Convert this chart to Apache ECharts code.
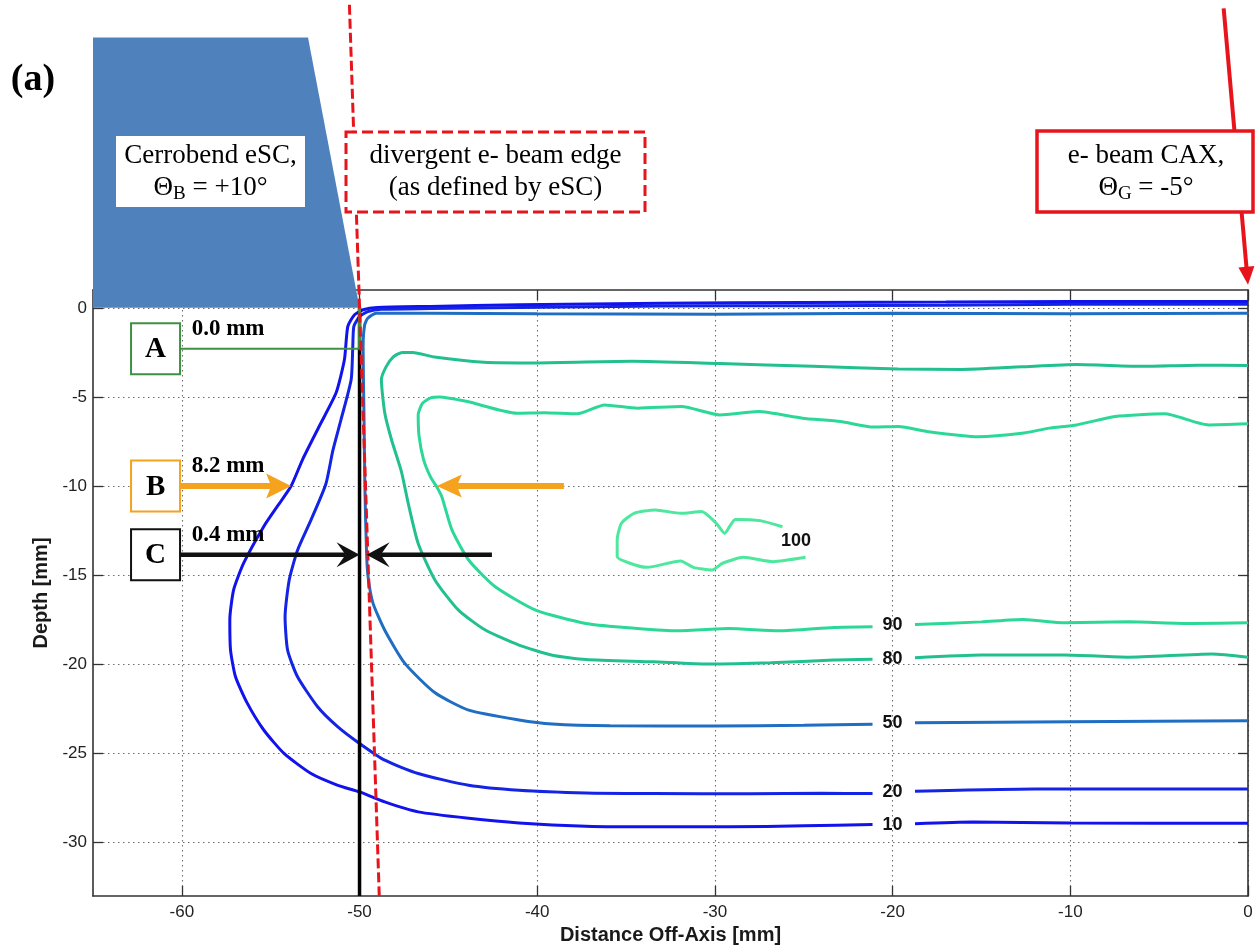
<!DOCTYPE html>
<html>
<head>
<meta charset="utf-8">
<script src="https://cdn.jsdelivr.net/npm/echarts@6/dist/echarts.min.js"></script>
<style>
  html, body { margin: 0; padding: 0; background: #fff; }
  #main { width: 1255px; height: 948px; }
</style>
</head>
<body>
<div id="main"></div>
<script>
// ---------- axis ticks ----------
const xTicks = [-60, -50, -40, -30, -20, -10, 0];
const yTicks = [-30, -25, -20, -15, -10, -5, 0];

// ---------- isodose contours (x = off-axis distance, y = depth, mm); null = label gap ----------
const isoLevels = ['10', '20', '50', '80', '90', '100'];

const iso10 = [
  [0, 0.35], [-10, 0.35], [-17, 0.32], [-25, 0.3], [-33, 0.26], [-41, 0.17], [-46, 0.08], [-49, 0.02],
  [-49.8, -0.11], [-50.28, -0.39], [-50.66, -1.04], [-50.85, -2.9], [-51.32, -4.77], [-52.26, -6.63],
  [-53.2, -8.5], [-53.85, -10.0], [-54.6, -11.1], [-55.38, -12.25], [-56.51, -14.3], [-57.08, -15.8],
  [-57.3, -17.5], [-57.26, -19.2], [-56.98, -20.7], [-56.32, -22.18], [-55.38, -23.7], [-54.25, -25.0],
  [-52.73, -26.13], [-51.22, -26.79], [-50.0, -27.16], [-48.58, -27.72], [-46.7, -28.28], [-43.86, -28.64],
  [-41.03, -28.9], [-37.26, -29.08], [-33.5, -29.12], [-29.2, -29.12], [-25, -29.06], [-21.13, -28.99],
  null,
  [-18.74, -28.95], [-15.5, -28.85], [-10, -28.9], [0, -28.92]
];

const iso20 = [
  [0, 0.2], [-10, 0.2], [-17, 0.15], [-25, 0.12], [-33, 0.1], [-41, 0.02], [-46, -0.04], [-48.77, -0.08],
  [-49.53, -0.21], [-50.0, -0.49], [-50.32, -1.04], [-50.38, -2.16], [-50.47, -4.02], [-51.04, -6.26],
  [-51.5, -8.0], [-51.9, -9.9], [-52.73, -11.9], [-53.49, -13.6], [-53.96, -15.28], [-54.19, -17.33],
  [-54.05, -19.2], [-53.49, -20.7], [-52.36, -22.38], [-51.22, -23.51], [-50.0, -24.44], [-48.58, -25.38],
  [-46.7, -26.13], [-43.86, -26.79], [-41.03, -27.07], [-37.26, -27.22], [-33.5, -27.25], [-28, -27.26],
  [-24, -27.24], [-21.13, -27.25],
  null,
  [-18.74, -27.12], [-12, -27.0], [0, -27.0]
];

const iso50 = [
  [0, -0.3], [-10, -0.33], [-20, -0.3], [-30, -0.36], [-40, -0.33], [-46, -0.3], [-49.06, -0.3],
  [-49.55, -0.6], [-49.72, -1.0], [-49.8, -2.2], [-49.75, -6], [-49.7, -10], [-49.6, -13.9],
  [-49.5, -15.25], [-49.24, -16.58], [-48.58, -18.09], [-47.45, -19.95], [-45.75, -21.6], [-43.86, -22.57],
  [-41.03, -23.12], [-39.15, -23.35], [-35.9, -23.45], [-30, -23.46], [-25, -23.42], [-21.13, -23.37],
  null,
  [-18.74, -23.28], [-10, -23.22], [0, -23.17]
];

const iso80 = [
  [0, -3.24], [-2.85, -3.22], [-5.93, -3.28], [-9.64, -3.18], [-12.73, -3.31], [-16.13, -3.46],
  [-19.68, -3.43], [-24.48, -3.28], [-29.72, -3.13], [-34.67, -3.0], [-39.91, -3.09], [-43.0, -3.05],
  [-45.79, -2.76], [-47.0, -2.5], [-47.6, -2.5], [-48.1, -2.75], [-48.5, -3.3], [-48.77, -4.02],
  [-48.58, -5.9], [-48.2, -7.4], [-47.64, -9.2], [-47.26, -10.97], [-46.7, -13.22], [-45.75, -15.28],
  [-44.43, -16.96], [-42.92, -18.08], [-41.03, -18.92], [-39.15, -19.49], [-37.26, -19.73], [-33.48, -19.86],
  [-30.4, -19.99], [-26.86, -19.92], [-23.31, -19.76], [-21.13, -19.72],
  null,
  [-18.74, -19.63], [-15.0, -19.48], [-10.3, -19.48], [-6.77, -19.6], [-2.02, -19.42], [0, -19.6]
];

const iso90 = [
  [0, -6.51], [-2.23, -6.57], [-4.7, -5.95], [-7.48, -6.1], [-9.64, -6.57], [-11.18, -6.75], [-12.73, -7.04],
  [-15.2, -7.23], [-17.98, -6.95], [-19.68, -6.66], [-21.07, -6.69], [-22.93, -6.38], [-25.08, -6.19],
  [-27.56, -5.82], [-29.72, -6.01], [-31.88, -5.54], [-34.35, -5.63], [-36.21, -5.45], [-37.75, -5.95],
  [-39.61, -5.88], [-41.15, -5.91], [-43.93, -5.26], [-45.5, -5.0], [-46.0, -5.05], [-46.45, -5.35],
  [-46.7, -6.0], [-46.65, -7.2], [-46.4, -8.5], [-46.0, -9.5], [-45.65, -10.05], [-45.37, -10.6],
  [-44.8, -12.46], [-43.86, -14.15], [-42.36, -15.65], [-40.09, -16.96], [-37.26, -17.71], [-35.13, -17.93],
  [-32.29, -18.12], [-29.22, -17.99], [-26.38, -18.12], [-23.31, -17.93], [-21.13, -17.89],
  null,
  [-18.74, -17.77], [-15.0, -17.62], [-12.66, -17.49], [-10.3, -17.67], [-6.76, -17.62], [-3.2, -17.71], [0, -17.67]
];

const iso100 = [
  [-26.2, -12.28], [-27.45, -11.94], [-28.85, -11.87], [-29.45, -12.65], [-29.92, -12.09], [-30.75, -11.43],
  [-31.93, -11.53], [-33.36, -11.34], [-34.55, -11.53], [-35.26, -12.09], [-35.5, -13.02], [-35.5, -13.97],
  [-34.79, -14.33], [-33.83, -14.56], [-31.93, -14.2], [-31.22, -14.56], [-30.16, -14.71], [-29.57, -14.33],
  [-28.39, -14.0], [-26.73, -14.24], [-24.9, -14.0]
];

// inline contour label anchors
const isoLabelX = [-20.0, -20.0, -20.0, -20.0, -20.0, -25.44];
const isoLabelY = [-29.03, -27.16, -23.3, -19.71, -17.8, -13.08];

// ---------- geometry of the setup ----------
const shieldOutline = [[-65, 0], [-65, 15.16], [-52.9, 15.16], [-50, 0]];  // Cerrobend eSC cross-section
const beamEdge = [[-50.57, 17], [-48.89, -33]];                              // divergent beam edge
const caxArrow = [[-1.37, 16.8], [0, 1.3]];                                  // central axis direction
const fieldEdge = [[-50, 0], [-50, -33]];                                    // geometric field edge

// ---------- penumbra / edge markers ----------
const markerNames = ['A', 'B', 'C'];
const markerDepths = [-2.3, -10.0, -13.85];
const markerEdgeX = [-50.0, -53.85, -50.0];   // outer end of the measured distance
const markerWidths = [0.0, 8.2, 0.4];          // distance in mm
const markerInnerTail = [null, -38.5, -42.55]; // tail of the opposing arrow

// ---------- styles ----------
const isoColors = ['#1212ec', '#1424e4', '#1f6ec4', '#21c08e', '#2cd898', '#4de79e'];
const markerColors = ['#3f9142', '#f5a21e', '#111111'];
const RED = '#e8141c';
const SHIELD_BLUE = '#4f81bd';
const SERIF = '"Liberation Serif", "Times New Roman", serif';
const SANS = '"Liberation Sans", Arial, sans-serif';

const chart = echarts.init(document.getElementById('main'), null, { renderer: 'canvas' });

function toSeriesData(arr) {
  return arr.map(p => (p ? p : ['-', '-']));
}

function arrowShapes(tail, tip, color, shaftW, headLen, headW, notch) {
  const dx = tip[0] - tail[0], dy = tip[1] - tail[1];
  const L = Math.hypot(dx, dy) || 1;
  const ux = dx / L, uy = dy / L, nx = -uy, ny = ux;
  const bx = tip[0] - ux * headLen, by = tip[1] - uy * headLen;
  const shaftEnd = [tip[0] - ux * headLen * 0.6, tip[1] - uy * headLen * 0.6];
  return [
    { type: 'line', shape: { x1: tail[0], y1: tail[1], x2: shaftEnd[0], y2: shaftEnd[1] },
      style: { stroke: color, lineWidth: shaftW } },
    { type: 'polygon', shape: { points: [
        [tip[0], tip[1]],
        [bx + nx * headW / 2, by + ny * headW / 2],
        [tip[0] - ux * (headLen - notch), tip[1] - uy * (headLen - notch)],
        [bx - nx * headW / 2, by - ny * headW / 2]
      ] }, style: { fill: color } }
  ];
}

function segment(a, b, style) {
  return { type: 'line', shape: { x1: a[0], y1: a[1], x2: b[0], y2: b[1] }, style: style };
}

function renderAnnotations(params, api) {
  const P = p => api.coord(p);
  const kids = [];

  // collimator block
  kids.push({ type: 'polygon', shape: { points: shieldOutline.map(P) }, style: { fill: SHIELD_BLUE } });

  // geometric field edge (solid black)
  kids.push(segment(P(fieldEdge[0]), P(fieldEdge[1]), { stroke: '#000', lineWidth: 3.5 }));
  // short green segment where the A distance is zero
  kids.push(segment(P([markerEdgeX[0], 0]), P([markerEdgeX[0], markerDepths[0]]), { stroke: markerColors[0], lineWidth: 3 }));

  // divergent beam edge (dashed red)
  kids.push(segment(P(beamEdge[0]), P(beamEdge[1]), { stroke: RED, lineWidth: 3, lineDash: [10, 4] }));

  // beam central axis arrow
  kids.push(...arrowShapes(P(caxArrow[0]), P(caxArrow[1]), RED, 4, 18, 16, 0));

  // markers A, B, C
  const boxX = -61.48;
  markerNames.forEach((name, i) => {
    const y = markerDepths[i];
    const c = P([boxX, y]);
    const color = markerColors[i];
    const boxRight = [c[0] + 24.5, c[1]];
    const edge = P([markerEdgeX[i], y]);
    if (i === 0) {
      kids.push(segment(boxRight, edge, { stroke: color, lineWidth: 2 }));
    } else if (i === 1) {
      kids.push(...arrowShapes(boxRight, edge, color, 6, 25, 25, 5));
      const innerTip = P([markerEdgeX[i] + markerWidths[i], y]);
      kids.push(...arrowShapes(P([markerInnerTail[i], y]), innerTip, color, 6, 25, 23, 5));
    } else {
      kids.push(...arrowShapes(boxRight, edge, color, 4.5, 23, 25, 9));
      const innerTip = P([markerEdgeX[i] + markerWidths[i], y]);
      kids.push(...arrowShapes(P([markerInnerTail[i], y]), innerTip, color, 4.5, 23, 25, 9));
    }
    kids.push({ type: 'rect', shape: { x: c[0] - 24.5, y: c[1] - 25.5, width: 49, height: 51 },
      style: { fill: '#fff', stroke: color, lineWidth: 2 } });
    kids.push({ type: 'text', style: { text: name, x: c[0], y: c[1] + 1, font: 'bold 29px ' + SERIF, fill: '#000',
      textAlign: 'center', textVerticalAlign: 'middle', align: 'center', verticalAlign: 'middle' } });
    const t = P([-57.4, y]);
    kids.push({ type: 'text', style: { text: markerWidths[i].toFixed(1) + ' mm', x: t[0], y: t[1] - 20,
      font: 'bold 23px ' + SERIF, fill: '#000',
      textAlign: 'center', textVerticalAlign: 'middle', align: 'center', verticalAlign: 'middle' } });
  });

  return { type: 'group', children: kids };
}

function renderIsoLabels(params, api) {
  const i = params.dataIndex;
  const p = api.coord([isoLabelX[i], isoLabelY[i]]);
  return { type: 'text', style: { text: isoLevels[i], x: p[0], y: p[1], font: 'bold 18px ' + SANS, fill: '#111',
    textAlign: 'center', textVerticalAlign: 'middle', align: 'center', verticalAlign: 'middle' } };
}

const contours = [iso10, iso20, iso50, iso80, iso90, iso100];

const axisLineStyle = { color: '#333333', width: 1.6 };
const tickStyle = { color: '#333333', width: 1.3 };
const gridLineStyle = { color: '#6e6e6e', width: 1.1, type: [1.5, 3.5] };

const option = {
  animation: false,
  backgroundColor: '#fff',
  grid: { left: 93, top: 290, width: 1155, height: 606, containLabel: false, outerBoundsMode: 'none' },
  xAxis: [
    {
      type: 'value', min: -65, max: 0, position: 'bottom',
      axisLine: { show: true, onZero: false, lineStyle: axisLineStyle },
      axisTick: { show: true, inside: true, length: 10, customValues: xTicks, lineStyle: tickStyle },
      axisLabel: { show: true, customValues: xTicks, color: '#222', fontSize: 17, fontFamily: SANS, margin: 8 },
      splitLine: { show: true, lineStyle: gridLineStyle },
      name: 'Distance Off-Axis [mm]', nameLocation: 'middle', nameGap: 23,
      nameTextStyle: { color: '#1a1a1a', fontSize: 20, fontWeight: 'bold', fontFamily: SANS }
    },
    {
      type: 'value', min: -65, max: 0, position: 'top',
      axisLine: { show: true, onZero: false, lineStyle: axisLineStyle },
      axisTick: { show: true, inside: true, length: 10, customValues: xTicks, lineStyle: tickStyle },
      axisLabel: { show: false },
      splitLine: { show: false }
    }
  ],
  yAxis: [
    {
      type: 'value', min: -33, max: 1, position: 'left',
      axisLine: { show: true, onZero: false, lineStyle: axisLineStyle },
      axisTick: { show: true, inside: true, length: 10, customValues: yTicks, lineStyle: tickStyle },
      axisLabel: { show: true, customValues: yTicks, color: '#222', fontSize: 17, fontFamily: SANS, margin: 6 },
      splitLine: { show: true, lineStyle: gridLineStyle },
      name: 'Depth [mm]', nameLocation: 'middle', nameGap: 39, nameRotate: 90,
      nameTextStyle: { color: '#1a1a1a', fontSize: 20, fontWeight: 'bold', fontFamily: SANS }
    },
    {
      type: 'value', min: -33, max: 1, position: 'right',
      axisLine: { show: true, onZero: false, lineStyle: axisLineStyle },
      axisTick: { show: true, inside: true, length: 10, customValues: yTicks, lineStyle: tickStyle },
      axisLabel: { show: false },
      splitLine: { show: false }
    }
  ],
  series: [
    ...contours.map((arr, i) => ({
      type: 'line', name: isoLevels[i], xAxisIndex: 0, yAxisIndex: 0,
      data: toSeriesData(arr), showSymbol: false, symbol: 'none', connectNulls: false, smooth: 0.2,
      silent: true, lineStyle: { color: isoColors[i], width: 3 }, z: 3
    })),
    {
      type: 'custom', name: 'labels', xAxisIndex: 0, yAxisIndex: 0, silent: true, clip: false, z: 4,
      data: isoLevels.map((_, i) => [isoLabelX[i], isoLabelY[i]]),
      renderItem: renderIsoLabels
    },
    {
      type: 'custom', name: 'setup', xAxisIndex: 0, yAxisIndex: 0, silent: true, clip: false, z: 5,
      data: [[-50, 0]],
      renderItem: renderAnnotations
    }
  ],
  graphic: [
    { type: 'text', z: 100, x: 33, y: 80,
      style: { text: '(a)', font: 'bold 38px ' + SERIF, fill: '#000',
        textAlign: 'center', textVerticalAlign: 'middle', align: 'center', verticalAlign: 'middle' } },
    // collimator caption
    { type: 'rect', z: 100, shape: { x: 116, y: 136, width: 189, height: 71 }, style: { fill: '#fff' } },
    { type: 'text', z: 101, x: 210.5, y: 171.5,
      style: { text: '{t|Cerrobend eSC,}\n{t|Θ}{s|B}{t| = +10°}',
        rich: {
          t: { fontSize: 27, fontFamily: SERIF, lineHeight: 32, fill: '#000' },
          s: { fontSize: 19, fontFamily: SERIF, lineHeight: 12, verticalAlign: 'bottom', fill: '#000' }
        },
        textAlign: 'center', textVerticalAlign: 'middle', align: 'center', verticalAlign: 'middle' } },
    // beam edge caption
    { type: 'rect', z: 100, shape: { x: 346, y: 132, width: 299, height: 80 },
      style: { fill: '#fff', stroke: RED, lineWidth: 3, lineDash: [11, 5] } },
    { type: 'text', z: 101, x: 495.5, y: 172,
      style: { text: 'divergent e- beam edge\n(as defined by eSC)', font: '27px ' + SERIF, lineHeight: 32, fill: '#000',
        textAlign: 'center', textVerticalAlign: 'middle', align: 'center', verticalAlign: 'middle' } },
    // central axis caption
    { type: 'rect', z: 100, shape: { x: 1037, y: 131, width: 216, height: 81 },
      style: { fill: '#fff', stroke: RED, lineWidth: 3.5 } },
    { type: 'text', z: 101, x: 1146, y: 172,
      style: { text: '{t|e- beam CAX,}\n{t|Θ}{s|G}{t| = -5°}',
        rich: {
          t: { fontSize: 27, fontFamily: SERIF, lineHeight: 32, fill: '#000' },
          s: { fontSize: 19, fontFamily: SERIF, lineHeight: 12, verticalAlign: 'bottom', fill: '#000' }
        },
        textAlign: 'center', textVerticalAlign: 'middle', align: 'center', verticalAlign: 'middle' } }
  ]
};

chart.setOption(option);
</script>
</body>
</html>
